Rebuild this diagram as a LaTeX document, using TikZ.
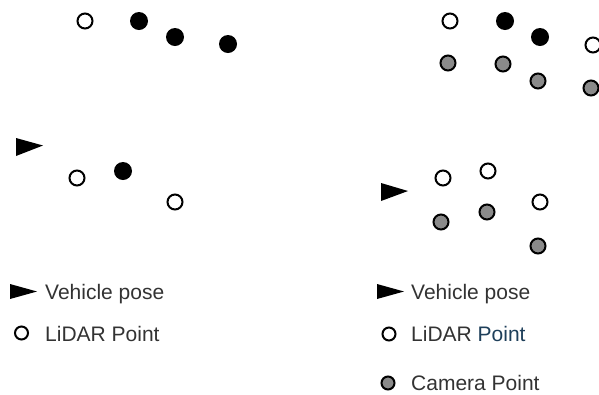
\documentclass[tikz,border=0pt]{standalone}
\usepackage{fontspec}
\setmainfont{Liberation Sans}
\definecolor{txt}{HTML}{333333}
\definecolor{ptblue}{HTML}{1E3F5A}
\definecolor{camgray}{HTML}{8A8A8A}
\tikzset{
  lidar/.style={circle,draw=black,line width=2bp,fill=white,minimum size=15bp,inner sep=0pt},
  solid pt/.style={circle,fill=black,minimum size=18bp,inner sep=0pt},
  campt/.style={circle,draw=black,line width=2bp,fill=camgray,minimum size=15bp,inner sep=0pt},
  lidarleg/.style={lidar,minimum size=13bp},
  camleg/.style={campt,minimum size=13bp},
  legtext/.style={anchor=base west,inner sep=0pt,text=txt,font=\fontsize{21bp}{25bp}\selectfont},
  pose/.style={fill=black}
}
\begin{document}
\begin{tikzpicture}[x=1bp,y=-1bp]
\clip (0,0) rectangle (599,394);
\fill[white] (0,0) rectangle (599,394);
% ---------- left panel ----------
\node[lidar] (a1) at (85,21) {};
\node[solid pt] (a2) at (139,21) {};
\node[solid pt] (a3) at (175,37) {};
\node[solid pt] (a4) at (228,44) {};
\fill[pose] (16,138) -- (43,145.5) -- (16,156) -- cycle;
\node[lidar] (a5) at (77,178) {};
\node[solid pt] (a6) at (123,171) {};
\node[lidar] (a7) at (175,202) {};
% ---------- right panel ----------
\node[lidar] (b1) at (450,21) {};
\node[solid pt] (b2) at (505,21) {};
\node[solid pt] (b3) at (540,37) {};
\node[lidar] (b4) at (593,45) {};
\node[campt] (c1) at (448,63) {};
\node[campt] (c2) at (503,64) {};
\node[campt] (c3) at (538,81) {};
\node[campt] (c4) at (591,88) {};
\fill[pose] (381,183) -- (408,191) -- (381,201) -- cycle;
\node[lidar] (b5) at (443,178) {};
\node[lidar] (b6) at (488,171) {};
\node[lidar] (b7) at (540,202) {};
\node[campt] (c5) at (441,222) {};
\node[campt] (c6) at (487,212) {};
\node[campt] (c7) at (538,246) {};
% ---------- legends ----------
\fill[pose] (10,284) -- (37,291.5) -- (10,299) -- cycle;
\node[legtext] (lv) at (45,299) {Vehicle pose};
\node[lidarleg] (ll) at (21.5,333) {};
\node[legtext] (lt) at (45,341) {LiDAR Point};
\fill[pose] (377,284) -- (404,291.5) -- (377,299) -- cycle;
\node[legtext] (rv) at (411,299) {Vehicle pose};
\node[lidarleg] (rl) at (389,334) {};
\node[legtext] (rt) at (411,341) {LiDAR \textcolor{ptblue}{Point}};
\node[camleg] (rc) at (388,383) {};
\node[legtext] (rct) at (411,390) {Camera Point};
\end{tikzpicture}
\end{document}
